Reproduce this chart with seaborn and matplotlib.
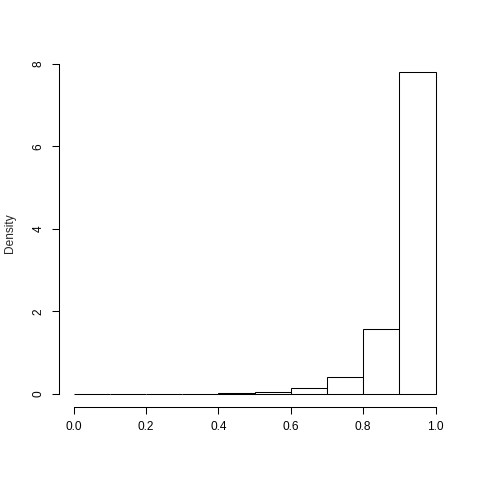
import numpy as np
import matplotlib

matplotlib.use('Agg')

import matplotlib.pyplot as plt
import seaborn as sns

# ============================================================
# Data (bin width 0.1)
# ============================================================

bin_edges = [0.0, 0.1, 0.2, 0.3, 0.4, 0.5, 0.6, 0.7, 0.8, 0.9, 1.0]
bin_mids = [0.05, 0.15, 0.25, 0.35, 0.45, 0.55, 0.65, 0.75, 0.85, 0.95]
density = [0.002, 0.002, 0.003, 0.004, 0.02, 0.05, 0.13, 0.41, 1.56, 7.81]

x_ticks = [0.0, 0.2, 0.4, 0.6, 0.8, 1.0]
x_tick_labels = ["0.0", "0.2", "0.4", "0.6", "0.8", "1.0"]
y_ticks = [0, 2, 4, 6, 8]

# ============================================================
# Style
# ============================================================

sns.set_style("ticks")
plt.rcParams['font.family'] = ['Liberation Sans', 'DejaVu Sans']

fig = plt.figure(figsize=(4.8, 4.8), dpi=100)
ax = fig.add_axes([0.123, 0.153, 0.8145, 0.724])

sns.histplot(
    x=bin_mids,
    weights=density,
    bins=bin_edges,
    stat='count',
    color='white',
    edgecolor='black',
    linewidth=0.75,
    alpha=1,
    ax=ax
)

ymax = max(density)
ax.set_xlim(-0.04, 1.04)
ax.set_ylim(-0.04 * ymax, 1.04 * ymax)

ax.set_xticks(x_ticks)
ax.set_xticklabels(x_tick_labels)
ax.set_yticks(y_ticks)
ax.set_yticklabels([str(v) for v in y_ticks], rotation=90, va='center')

for side in ['top', 'right']:
    ax.spines[side].set_visible(False)

ax.spines['bottom'].set_bounds(0, 1)
ax.spines['left'].set_bounds(0, 8)
for side in ['bottom', 'left']:
    ax.spines[side].set_linewidth(0.75)
    ax.spines[side].set_color('black')

ax.tick_params(
    axis='both',
    length=5.2,
    width=0.75,
    pad=5.2,
    labelsize=8.6,
    colors='black'
)

ax.set_xlabel('')
ax.set_ylabel('Density', fontsize=8.6, labelpad=12)

fig.savefig('out.png', dpi=100, facecolor='white')
plt.close(fig)
